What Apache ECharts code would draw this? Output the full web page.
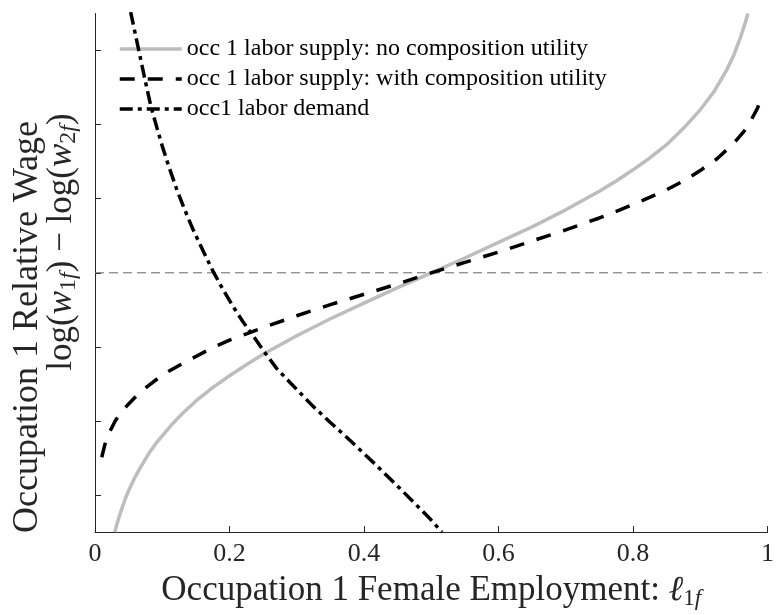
<!DOCTYPE html>
<html>
<head>
<meta charset="utf-8">
<script src="https://cdn.jsdelivr.net/npm/echarts@6/dist/echarts.min.js"></script>
<style>
html,body{margin:0;padding:0;background:#fff;}
#chart{width:777px;height:615px;}
</style>
</head>
<body>
<div id="chart"></div>
<script>
// ---- data ----
const xTickValues = [0, 0.2, 0.4, 0.6, 0.8, 1];
const yTickValues = [-3, -2, -1, 0, 1, 2, 3];

const seriesNames = [
  'occ 1 labor supply: no composition utility',
  'occ 1 labor supply: with composition utility',
  'occ1 labor demand'
];

const supplyNoCompX = [0.0294, 0.032, 0.035, 0.04, 0.045, 0.05, 0.06, 0.07, 0.08, 0.09, 0.1, 0.115, 0.13, 0.15, 0.175, 0.2, 0.225, 0.25, 0.3, 0.35, 0.4, 0.45, 0.5, 0.55, 0.6, 0.65, 0.7, 0.75, 0.775, 0.8, 0.825, 0.85, 0.875, 0.9, 0.92, 0.94, 0.95, 0.96, 0.965, 0.971];
const supplyNoCompY = [-3.50, -3.41, -3.32, -3.18, -3.05, -2.94, -2.75, -2.59, -2.44, -2.31, -2.20, -2.04, -1.90, -1.73, -1.55, -1.39, -1.24, -1.10, -0.85, -0.62, -0.41, -0.20, 0.00, 0.20, 0.41, 0.62, 0.85, 1.10, 1.24, 1.39, 1.55, 1.73, 1.95, 2.20, 2.44, 2.75, 2.94, 3.18, 3.32, 3.50];

const supplyCompX = [0.010, 0.015, 0.020, 0.030, 0.040, 0.050, 0.065, 0.080, 0.100, 0.125, 0.150, 0.175, 0.200, 0.250, 0.300, 0.350, 0.400, 0.450, 0.500, 0.550, 0.600, 0.650, 0.700, 0.750, 0.800, 0.850, 0.875, 0.900, 0.925, 0.950, 0.965, 0.975, 0.985, 0.991];
const supplyCompY = [-2.49, -2.31, -2.18, -2.00, -1.87, -1.77, -1.63, -1.52, -1.38, -1.25, -1.13, -1.01, -0.91, -0.74, -0.58, -0.43, -0.29, -0.15, 0.00, 0.14, 0.28, 0.43, 0.58, 0.74, 0.92, 1.12, 1.24, 1.38, 1.54, 1.75, 1.91, 2.05, 2.22, 2.36];

const demandX = [0.053, 0.060, 0.067, 0.075, 0.083, 0.092, 0.100, 0.110, 0.121, 0.133, 0.146, 0.160, 0.175, 0.190, 0.205, 0.220, 0.235, 0.252, 0.270, 0.290, 0.324, 0.350, 0.373, 0.400, 0.422, 0.450, 0.472, 0.495, 0.514, 0.516];
const demandY = [3.52, 3.22, 2.92, 2.58, 2.25, 1.96, 1.71, 1.43, 1.14, 0.86, 0.58, 0.31, 0.03, -0.22, -0.45, -0.66, -0.85, -1.07, -1.29, -1.48, -1.80, -2.02, -2.21, -2.44, -2.63, -2.88, -3.08, -3.29, -3.48, -3.50];

const referenceLevel = 0;

// ---- build ----
function zip(xs, ys) { return xs.map((x, i) => [x, ys[i]]); }

const SERIF = '"Liberation Serif", "Times New Roman", serif';
const TXT = '#262626';
const chart = echarts.init(document.getElementById('chart'), null, {renderer: 'canvas'});

const option = {
  animation: false,
  backgroundColor: '#ffffff',
  grid: {left: 95, right: 7, top: 13.5, bottom: 81, containLabel: false},
  legend: {
    left: 113, top: 32, orient: 'vertical',
    itemWidth: 62, itemHeight: 14, itemGap: 6,
    itemStyle: {opacity: 0},
    lineStyle: {width: 3.5},
    textStyle: {fontFamily: SERIF, fontSize: 24, color: '#000', lineHeight: 24},
    data: seriesNames.map(n => ({name: n}))
  },
  xAxis: {
    type: 'value', min: 0, max: 1, interval: 0.2,
    axisLine: {show: true, onZero: false, lineStyle: {color: TXT, width: 1}},
    axisTick: {show: true, inside: true, length: 6, customValues: xTickValues, lineStyle: {color: TXT}},
    axisLabel: {show: true, margin: 9, fontFamily: SERIF, fontSize: 26, color: TXT,
      customValues: xTickValues, formatter: v => String(+(+v).toFixed(1))},
    splitLine: {show: false},
    name: 'Occupation 1 Female Employment: {it|ℓ}{sub|1}{subi|f}',
    nameLocation: 'middle', nameGap: 38,
    nameTextStyle: {
      fontFamily: SERIF, fontSize: 35, color: TXT, lineHeight: 38,
      rich: {
        it: {fontFamily: SERIF, fontSize: 35, fontStyle: 'italic', color: TXT, lineHeight: 38},
        sub: {fontFamily: SERIF, fontSize: 23, color: TXT, verticalAlign: 'bottom', lineHeight: 22},
        subi: {fontFamily: SERIF, fontSize: 23, fontStyle: 'italic', color: TXT, verticalAlign: 'bottom', lineHeight: 22}
      }
    }
  },
  yAxis: {
    type: 'value', min: -3.5, max: 3.5, interval: 0.5,
    axisLine: {show: true, onZero: false, lineStyle: {color: TXT, width: 1}},
    axisTick: {show: true, inside: true, length: 6, customValues: yTickValues, lineStyle: {color: TXT}},
    axisLabel: {show: false},
    splitLine: {show: false}
  },
  graphic: [
    {
      type: 'text', x: 28, y: 327, rotation: Math.PI / 2,
      style: {text: 'Occupation 1 Relative Wage', fontFamily: SERIF, fontSize: 36,
        fill: TXT, align: 'center', verticalAlign: 'middle'}
    },
    {
      type: 'text', x: 62, y: 242, rotation: Math.PI / 2,
      style: {
        text: 'log({i|w}{s|1}{si|f}) − log({i|w}{s|2}{si|f})',
        fontFamily: SERIF, fontSize: 35, fill: TXT, lineHeight: 38,
        align: 'center', verticalAlign: 'middle',
        rich: {
          i: {fontFamily: SERIF, fontSize: 35, fontStyle: 'italic', fill: TXT, lineHeight: 38},
          s: {fontFamily: SERIF, fontSize: 24, fill: TXT, verticalAlign: 'bottom', lineHeight: 22},
          si: {fontFamily: SERIF, fontSize: 24, fontStyle: 'italic', fill: TXT, verticalAlign: 'bottom', lineHeight: 22}
        }
      }
    }
  ],
  series: [
    {
      name: '__ref', type: 'line', data: [[0, referenceLevel], [1, referenceLevel]],
      symbol: 'none', silent: true, z: 1,
      lineStyle: {color: '#666666', width: 1, type: [9, 5]}
    },
    {
      name: seriesNames[0], type: 'line', data: zip(supplyNoCompX, supplyNoCompY),
      symbol: 'none', smooth: false, z: 2,
      itemStyle: {color: '#bdbdbd'},
      lineStyle: {color: '#bdbdbd', width: 3.5, join: 'round'}
    },
    {
      name: seriesNames[1], type: 'line', data: zip(supplyCompX, supplyCompY),
      symbol: 'none', smooth: false, z: 3,
      itemStyle: {color: '#000'},
      lineStyle: {color: '#000', width: 3.5, type: [15, 13], cap: 'butt'}
    },
    {
      name: seriesNames[2], type: 'line', data: zip(demandX, demandY),
      symbol: 'none', smooth: false, z: 4,
      itemStyle: {color: '#000'},
      lineStyle: {color: '#000', width: 3.5, type: [13, 5, 4, 5], cap: 'butt'}
    }
  ]
};
chart.setOption(option);
</script>
</body>
</html>
